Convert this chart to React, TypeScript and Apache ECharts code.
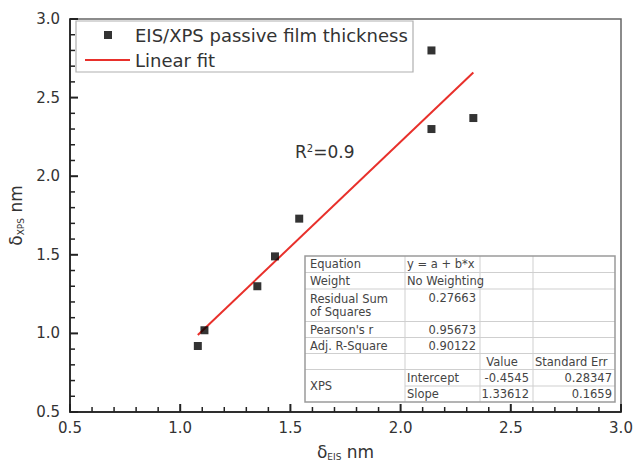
import React, { useEffect, useRef } from 'react';
import * as echarts from 'echarts';

const FONT = 'DejaVu Sans';

const scatterName = 'EIS/XPS passive film thickness';
const fitName = 'Linear fit';

const eisThickness = [1.08, 1.11, 1.35, 1.43, 1.54, 2.14, 2.14, 2.33];
const xpsThickness = [0.92, 1.02, 1.30, 1.49, 1.73, 2.80, 2.30, 2.37];

const fitX = [1.08, 2.33];
const fitY = [0.99, 2.66];

const axisMin = 0.5;
const axisMax = 3.0;
const axisStep = 0.5;
const majorTicks = [0.5, 1.0, 1.5, 2.0, 2.5, 3.0];
const minorPerMajor = 5;

const r2Text = '{a|R}{b|2}{a|=0.9}';

const tableCol1 = ['Equation', 'Weight', 'Residual Sum\nof Squares', "Pearson's r", 'Adj. R-Square', '', 'XPS'];
const tableCol2 = ['y = a + b*x', 'No Weighting', '0.27663', '0.95673', '0.90122', '', 'Intercept', 'Slope'];
const tableCol3 = ['', '', '', '', '', 'Value', '-0.4545', '1.33612'];
const tableCol4 = ['', '', '', '', '', 'Standard Err', '0.28347', '0.1659'];

function tickData(): number[][] {
  const out: number[][] = [];
  for (let i = 0; i < majorTicks.length; i++) {
    out.push([majorTicks[i], 1]);
    if (i < majorTicks.length - 1) {
      const step = (majorTicks[i + 1] - majorTicks[i]) / minorPerMajor;
      for (let k = 1; k < minorPerMajor; k++) out.push([majorTicks[i] + step * k, 0]);
    }
  }
  return out;
}

function buildTable(): any[] {
  const L = 305, R = 615, T = 256, B = 402;
  const colX = [405, 480, 533];
  const rowY = [T, 272.5, 289, 321.5, 337.5, 353.5, 369.5, 386, B];
  const els: any[] = [];
  const fs = 11.5;
  const col = '#444';
  els.push({ type: 'rect', z: 10, shape: { x: L, y: T, width: R - L, height: B - T }, style: { fill: '#fff', stroke: 'none' } });
  for (let i = 1; i < rowY.length - 1; i++) {
    const x1 = i === 7 ? colX[0] : L;
    els.push({ type: 'line', z: 11, shape: { x1, y1: rowY[i], x2: R, y2: rowY[i] }, style: { stroke: '#cfcfcf', lineWidth: 1 } });
  }
  colX.forEach((x) => {
    els.push({ type: 'line', z: 11, shape: { x1: x, y1: T, x2: x, y2: B }, style: { stroke: '#cfcfcf', lineWidth: 1 } });
  });
  els.push({ type: 'rect', z: 12, shape: { x: L, y: T, width: R - L, height: B - T }, style: { fill: 'none', stroke: '#9a9a9a', lineWidth: 1.5 } });
  const mid = (i: number) => (rowY[i] + rowY[i + 1]) / 2;
  const txt = (text: string, x: number, y: number, align: string) => ({
    type: 'text', z: 13, x, y,
    style: { text, fill: col, fontSize: fs, fontFamily: FONT, align, verticalAlign: 'middle', lineHeight: 13.5 },
  });
  tableCol1.forEach((t, i) => {
    if (!t) return;
    let y = mid(i);
    if (i === 6) y = rowY[7];
    els.push(txt(t, 310, y, 'left'));
  });
  tableCol2.forEach((t, i) => {
    if (!t) return;
    const isNum = /^-?[0-9.]+$/.test(t);
    let y = mid(i);
    if (i === 2) y = rowY[2] + 9;
    els.push(txt(t, isNum ? 476 : 407, y, isNum ? 'right' : 'left'));
  });
  tableCol3.forEach((t, i) => {
    if (!t) return;
    const isNum = /^-?[0-9.]+$/.test(t);
    els.push(txt(t, isNum ? 529 : 502, mid(i), isNum ? 'right' : 'center'));
  });
  tableCol4.forEach((t, i) => {
    if (!t) return;
    const isNum = /^-?[0-9.]+$/.test(t);
    els.push(txt(t, isNum ? 612 : 535, mid(i), isNum ? 'right' : 'left'));
  });
  return els;
}

export default function App() {
  const ref = useRef<HTMLDivElement>(null);
  useEffect(() => {
    if (!ref.current) return;
    const chart = echarts.init(ref.current, null, { renderer: 'svg' });
    const axisCommon = {
      type: 'value',
      min: axisMin,
      max: axisMax,
      interval: axisStep,
      axisLine: { show: true, onZero: false, lineStyle: { color: '#111', width: 1.5 } },
      axisTick: { show: false },
      minorTick: { show: false },
      splitLine: { show: false },
      minorSplitLine: { show: false },
      axisLabel: {
        formatter: (v: number) => v.toFixed(1),
        fontSize: 15,
        color: '#333',
        fontFamily: FONT,
      },
      nameLocation: 'middle',
    };
    const nameRich = {
      d: { fontSize: 17, fontFamily: FONT, color: '#333', lineHeight: 19 },
      s: { fontSize: 9, fontFamily: FONT, color: '#333', verticalAlign: 'bottom', lineHeight: 19 },
    };
    const baseGraphics: any[] = [
      { type: 'rect', z: 1, shape: { x: 76, y: 21, width: 337, height: 51 }, style: { fill: '#fff', stroke: '#b0b0b0', lineWidth: 1.2 } },
      {
        type: 'text', z: 5, x: 295, y: 152,
        style: {
          text: r2Text,
          verticalAlign: 'middle',
          rich: {
            a: { fontSize: 17, fontFamily: FONT, fill: '#333', color: '#333' },
            b: { fontSize: 10, fontFamily: FONT, fill: '#333', color: '#333', verticalAlign: 'top' },
          },
        },
      },
      ...buildTable(),
    ];
    chart.setOption({
      animation: false,
      backgroundColor: '#fff',
      grid: {
        left: 70, right: 14, top: 19, bottom: 50,
        containLabel: false,
        outerBoundsMode: 'none',
        show: true, borderColor: '#666', borderWidth: 1.5,
      },
      xAxis: {
        ...axisCommon,
        axisLabel: { ...axisCommon.axisLabel, margin: 8 },
        name: '{d|δ}{s|EIS}{d| nm}',
        nameGap: 30,
        nameTextStyle: { rich: nameRich },
      },
      yAxis: {
        ...axisCommon,
        axisLabel: { ...axisCommon.axisLabel, margin: 10 },
        name: '{d|δ}{s|XPS}{d| nm}',
        nameGap: 40,
        nameRotate: 90,
        nameTextStyle: { rich: nameRich },
      },
      legend: [
        {
          data: [scatterName],
          left: 104, top: 25, padding: 0,
          icon: 'rect', itemWidth: 8, itemHeight: 8,
          selectedMode: false,
          textStyle: { fontSize: 18, fontFamily: FONT, color: '#333', lineHeight: 20, padding: [0, 0, 0, 18] },
        },
        {
          data: [fitName],
          left: 85, top: 50, padding: 0,
          icon: 'rect', itemWidth: 45, itemHeight: 2,
          selectedMode: false,
          textStyle: { fontSize: 18, fontFamily: FONT, color: '#333', lineHeight: 20 },
        },
      ],
      graphic: baseGraphics,
      series: [
        {
          name: fitName,
          type: 'line',
          data: fitX.map((x, i) => [x, fitY[i]]),
          showSymbol: false,
          symbol: 'none',
          color: '#e8302b',
          lineStyle: { color: '#e8302b', width: 2 },
          z: 2,
        },
        {
          name: scatterName,
          type: 'scatter',
          data: eisThickness.map((x, i) => [x, xpsThickness[i]]),
          symbol: 'rect',
          symbolSize: 8,
          color: '#000',
          z: 3,
        },
      ],
    });
    const tickEls: any[] = [];
    try {
      tickData().forEach(([v, major]) => {
        const len = major ? 8 : 5;
        const lw = major ? 2 : 1.5;
        const px = chart.convertToPixel({ gridIndex: 0 } as any, [v, axisMin]) as number[];
        if (px) {
          tickEls.push({ type: 'rect', z: 40, shape: { x: px[0] - lw / 2, y: px[1] - len, width: lw, height: len }, style: { fill: '#222', stroke: 'none' } });
        }
        const py = chart.convertToPixel({ gridIndex: 0 } as any, [axisMin, v]) as number[];
        if (py) {
          tickEls.push({ type: 'rect', z: 40, shape: { x: py[0], y: py[1] - lw / 2, width: len, height: lw }, style: { fill: '#222', stroke: 'none' } });
        }
      });
    } catch (e) {
      // ignore
    }
    chart.setOption({ graphic: [...baseGraphics, ...tickEls] });
    return () => chart.dispose();
  }, []);
  return <div ref={ref} style={{ position: 'fixed', left: 0, top: 0, width: 635, height: 462 }} />;
}
